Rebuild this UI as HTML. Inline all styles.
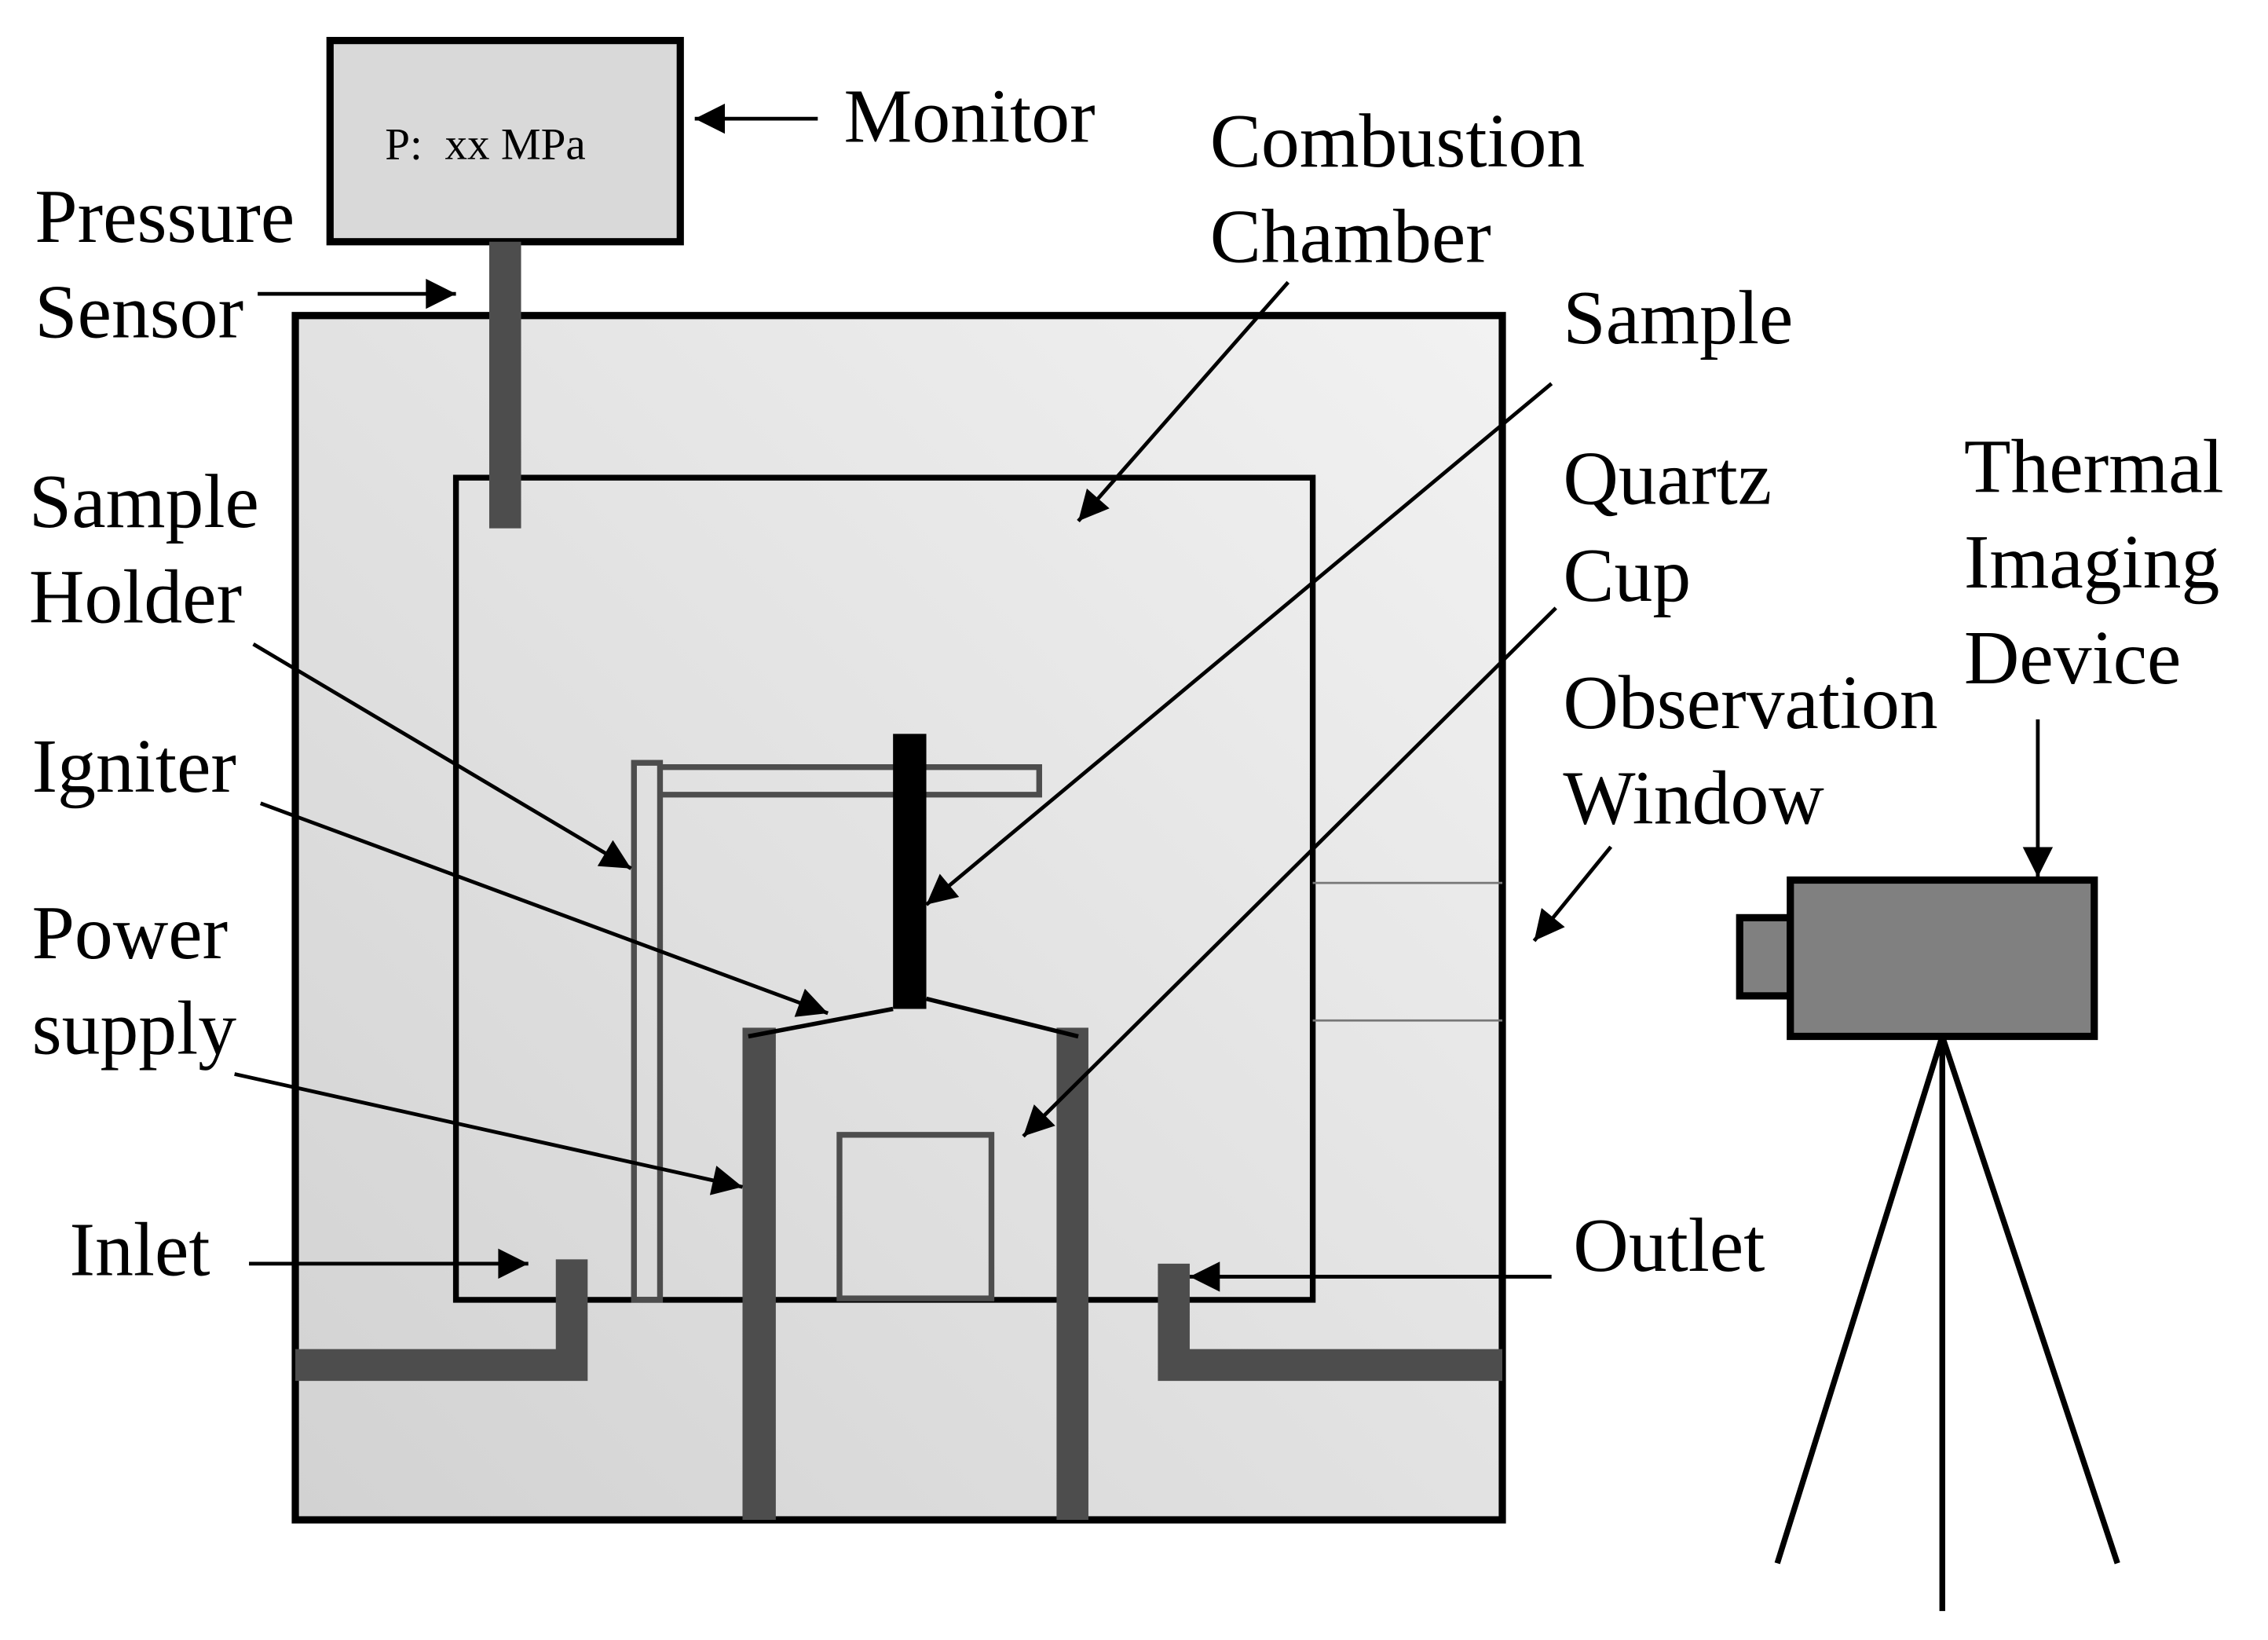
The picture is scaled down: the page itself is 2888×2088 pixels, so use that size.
<!DOCTYPE html>
<html><head><meta charset="utf-8"><style>html,body{margin:0;padding:0;background:#fff}svg{display:block}text{font-family:"Liberation Serif",serif;font-size:53px;fill:#000}</style></head><body>
<svg width="2888" height="2088" viewBox="0 0 1567 1133" xmlns="http://www.w3.org/2000/svg">
<defs>
<linearGradient id="g" x1="1" y1="0" x2="0" y2="1"><stop offset="0" stop-color="#f2f2f2"/><stop offset="1" stop-color="#d2d2d2"/></linearGradient>
<marker id="a" viewBox="0 0 10 10" refX="10" refY="5" markerWidth="10" markerHeight="8" markerUnits="strokeWidth" orient="auto" ><path d="M0,0L10,5L0,10z" fill="#000"/></marker>
</defs>
<rect x="204" y="218" width="834" height="832" fill="url(#g)" stroke="#000" stroke-width="5"/>
<rect x="315" y="330" width="592" height="568" fill="none" stroke="#000" stroke-width="4"/>
<line x1="907" y1="610" x2="1038" y2="610" stroke="#777" stroke-width="1.5"/>
<line x1="907" y1="705" x2="1038" y2="705" stroke="#777" stroke-width="1.5"/>
<rect x="228" y="28" width="242" height="139" fill="#d9d9d9" stroke="#000" stroke-width="5"/>
<text x="266" y="110" style="font-size:31px;white-space:pre" xml:space="preserve">P:  xx MPa</text>
<rect x="338" y="167" width="22" height="198" fill="#4d4d4d"/>
<g fill="none" stroke="#4d4d4d" stroke-width="4">
<rect x="438" y="527" width="18" height="371"/>
<path d="M456,530H718V549H456"/>
<rect x="580" y="784" width="105" height="113"/>
</g>
<rect x="617" y="507" width="23" height="190" fill="#000"/>
<rect x="513" y="710" width="23" height="340" fill="#4d4d4d"/>
<rect x="730" y="710" width="22" height="340" fill="#4d4d4d"/>
<path d="M517,716L617,697M640,690L745,716" stroke="#000" stroke-width="3"/>
<path d="M204,943H395V870" fill="none" stroke="#4d4d4d" stroke-width="22"/>
<path d="M811,873V943H1038" fill="none" stroke="#4d4d4d" stroke-width="22"/>
<rect x="1202" y="634" width="35" height="54" fill="#808080" stroke="#000" stroke-width="5"/>
<rect x="1237" y="608" width="210" height="108" fill="#808080" stroke="#000" stroke-width="5"/>
<path d="M1342,716L1228,1080M1342,716V1113M1342,716L1463,1080" stroke="#000" stroke-width="4" fill="none"/>
<g stroke="#000" stroke-width="2.6" fill="none" marker-end="url(#a)">
<line x1="565" y1="82" x2="480" y2="82"/>
<line x1="178" y1="203" x2="315" y2="203"/>
<line x1="890" y1="195" x2="745" y2="360"/>
<line x1="1072" y1="265" x2="640" y2="625"/>
<line x1="1075" y1="420" x2="707" y2="785"/>
<line x1="1408" y1="497" x2="1408" y2="606"/>
<line x1="1113" y1="585" x2="1060" y2="650"/>
<line x1="175" y1="445" x2="436" y2="600"/>
<line x1="180" y1="555" x2="572" y2="700"/>
<line x1="162" y1="742" x2="513" y2="820"/>
<line x1="172" y1="873" x2="365" y2="873"/>
<line x1="1072" y1="882" x2="822" y2="882"/>
</g>
<text x="583" y="98">Monitor</text>
<text x="24" y="167">Pressure</text><text x="24" y="233">Sensor</text>
<text x="836" y="115">Combustion</text><text x="836" y="181">Chamber</text>
<text x="1080" y="237">Sample</text>
<text x="1080" y="348">Quartz</text><text x="1080" y="415">Cup</text>
<text x="1357" y="340">Thermal</text><text x="1357" y="406">Imaging</text><text x="1357" y="472">Device</text>
<text x="1080" y="503">Observation</text><text x="1080" y="569">Window</text>
<text x="20" y="364">Sample</text><text x="20" y="430">Holder</text>
<text x="22" y="547">Igniter</text>
<text x="22" y="662">Power</text><text x="22" y="728">supply</text>
<text x="48" y="881">Inlet</text>
<text x="1087" y="878">Outlet</text>
</svg>
</body></html>
